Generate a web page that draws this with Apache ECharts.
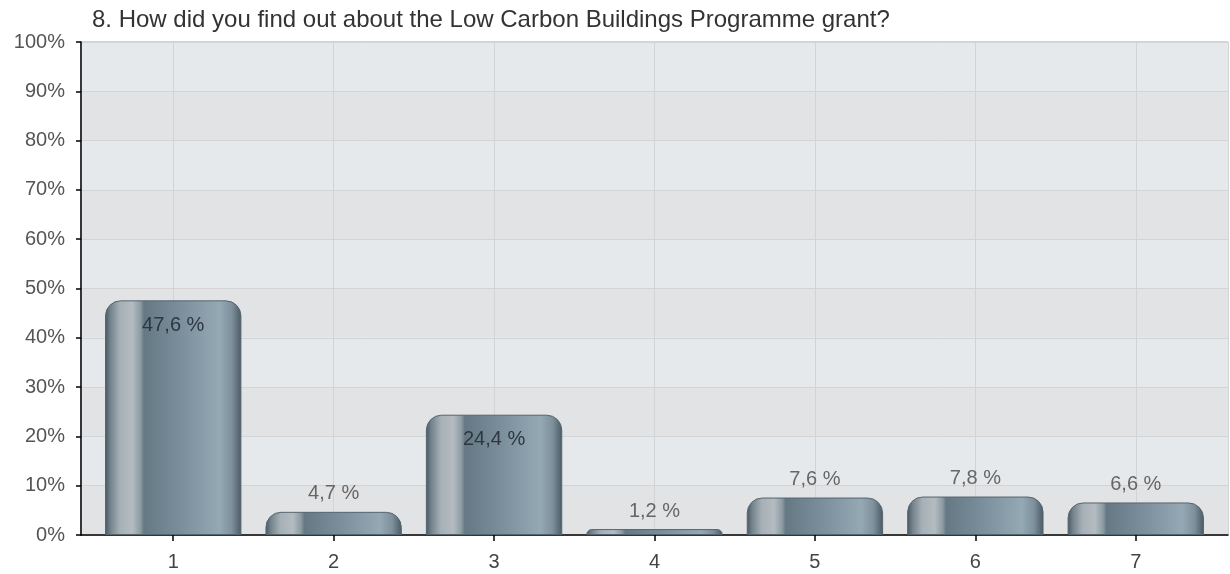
<!DOCTYPE html>
<html><head><meta charset="utf-8">
<script src="https://cdn.jsdelivr.net/npm/echarts@6/dist/echarts.min.js"></script>
<style>html,body{margin:0;padding:0;background:#fff}#c{width:1230px;height:574px}</style>
</head><body><div id="c"></div>
<script>
const titleText = '8. How did you find out about the Low Carbon Buildings Programme grant?';
const categories = ['1', '2', '3', '4', '5', '6', '7'];
const values = [47.6, 4.7, 24.4, 1.2, 7.6, 7.8, 6.6];
const valueLabels = ['47,6 %', '4,7 %', '24,4 %', '1,2 %', '7,6 %', '7,8 %', '6,6 %'];

const FONT = '"Liberation Sans", Arial, sans-serif';
const barGrad = new echarts.graphic.LinearGradient(0, 0, 1, 0, [
  {offset: 0, color: '#485862'},
  {offset: 0.04, color: '#74838c'},
  {offset: 0.11, color: '#a7b0b6'},
  {offset: 0.2, color: '#b4bcc1'},
  {offset: 0.26, color: '#8d9ba3'},
  {offset: 0.285, color: '#657985'},
  {offset: 0.55, color: '#7a8f9b'},
  {offset: 0.84, color: '#95a9b5'},
  {offset: 0.93, color: '#7d909b'},
  {offset: 1, color: '#4a5a64'}
]);

const barData = values.map((v, i) => {
  const inside = v > 20;
  return {
    value: v,
    label: {
      show: true,
      formatter: valueLabels[i],
      position: inside ? 'insideTop' : 'top',
      distance: inside ? 15 : 8,
      color: inside ? '#2f373e' : '#666',
      fontSize: 20,
      fontFamily: FONT
    }
  };
});

const chart = echarts.init(document.getElementById('c'), null, {renderer: 'canvas'});
chart.setOption({
  animation: false,
  title: {
    text: titleText, left: 87, top: 3,
    textStyle: {fontSize: 24, fontWeight: 'normal', color: '#333', fontFamily: FONT}
  },
  grid: [
    {left: 81, right: 2, top: 42, bottom: 39, show: true, borderColor: '#a8a8a8', borderWidth: 1, backgroundColor: 'transparent'},
    {left: 93, right: 14, top: 42, bottom: 39}
  ],
  xAxis: [
    {type: 'category', gridIndex: 0, data: [''], axisLine: {show: true, lineStyle: {color: '#000', width: 1.5}}, axisTick: {show: false}, axisLabel: {show: false}, splitLine: {show: false}},
    {type: 'category', gridIndex: 1, data: categories,
      axisLine: {show: false},
      axisTick: {show: true, alignWithLabel: true, length: 6, lineStyle: {color: '#000', width: 1.5}},
      axisLabel: {color: '#444', fontSize: 20, fontFamily: FONT, margin: 17},
      splitLine: {show: true, alignWithLabel: true, lineStyle: {color: '#d3d3d3', width: 1}}
    }
  ],
  yAxis: [
    {type: 'value', gridIndex: 0, min: 0, max: 100, interval: 10,
      axisLine: {show: true, lineStyle: {color: '#000', width: 1.5}},
      axisTick: {show: true, length: 5, lineStyle: {color: '#000', width: 1.5}},
      axisLabel: {formatter: '{value}%', color: '#555', fontSize: 20, fontFamily: FONT, margin: 16},
      splitLine: {show: true, lineStyle: {color: '#d4d4d4', width: 1}},
      splitArea: {show: true, areaStyle: {color: ['#e2e3e5', '#e6e9ec']}}
    },
    {type: 'value', gridIndex: 1, min: 0, max: 100, interval: 10, show: false}
  ],
  series: [{
    type: 'bar', xAxisIndex: 1, yAxisIndex: 1, data: barData, barWidth: '85%',
    itemStyle: {color: barGrad, borderRadius: [15, 15, 0, 0], borderColor: '#55656f', borderWidth: 1},
    z: 3
  }]
});
</script></body></html>
